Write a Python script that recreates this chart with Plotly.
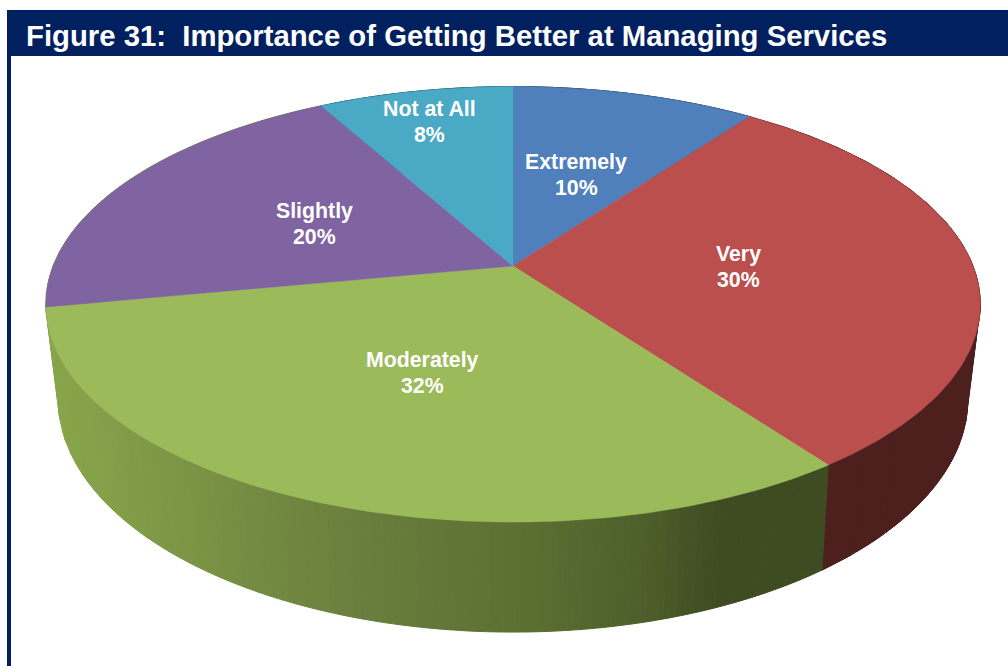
import numpy as np
import plotly.graph_objects as go

# ---- data ----
TITLE = "Figure 31:\u00a0 Importance of Getting Better at Managing Services"
categories = ["Extremely", "Very", "Moderately", "Slightly", "Not at All"]
values = [10, 30, 32, 20, 8]

# ---- styles ----
top_colors = ["#4f80bc", "#bb4f4d", "#9bba59", "#8063a1", "#4aa9c4"]
wall_colors = ["#2f4d70", "#4d1f1d", None, None, "#2c6475"]
green_x = [45, 100, 250, 400, 520, 640, 720, 830]
green_rgb = [(136, 166, 76), (132, 160, 73), (116, 140, 66), (102, 122, 58),
             (92, 112, 51), (78, 96, 43), (63, 75, 33), (62, 76, 34)]
NAVY = "#002060"
label_xy = [(576, 174.5), (738, 266.5), (422, 372.5), (314, 223.5), (429, 121.5)]
BAND_PX = 6

# ---- perspective model of the disc (pixel space axes) ----
CX = 513
TOP = dict(a=460.0, b=211.0, k=0.176, y0=266)
BOT = dict(a=447.0, b=225.0, k=0.185, y0=356)


def project(theta_deg, p):
    t = np.radians(theta_deg)
    d = 1 + p["k"] * np.cos(t)
    return CX + p["a"] * np.sin(t) / d, p["y0"] - p["b"] * np.cos(t) / d


def shade(x):
    r, g, b = (np.interp(x, green_x, [c[j] for c in green_rgb]) for j in range(3))
    return f"rgb({r:.0f},{g:.0f},{b:.0f})"


edges = np.cumsum([0] + values) / sum(values) * 360
fig = go.Figure()
common = dict(mode="lines", fill="toself", hoverinfo="skip", showlegend=False)


def add_band(th, col, width):
    x1, y1 = project(th, TOP)
    x2, y2 = project(th[::-1], BOT)
    fig.add_trace(go.Scatter(x=[*x1, *x2, x1[0]], y=[*y1, *y2, y1[0]],
                             line=dict(color=col, width=width), fillcolor=col, **common))


# side wall: flat slices in short overlapping arcs, shaded slices as bands of equal screen width
for i in [4, 0, 3, 1, 2]:
    th = np.linspace(edges[i], edges[i + 1], 400)
    if wall_colors[i] is not None:
        for s in range(0, len(th) - 1, 20):
            add_band(th[s:s + 40], wall_colors[i], 1)
        continue
    xm = (project(th, TOP)[0] + project(th, BOT)[0]) / 2
    bins = np.floor(xm / BAND_PX)
    start = 0
    for j in range(1, len(th) + 1):
        if j == len(th) or bins[j] != bins[start]:
            seg = th[start:min(j + 1, len(th))]
            add_band(seg, shade(xm[start:j].mean()), 1)
            start = j

# top surface
for i, name in enumerate(categories):
    th = np.linspace(edges[i], edges[i + 1], 160)
    x, y = project(th, TOP)
    fig.add_trace(go.Scatter(x=[CX, *x, CX], y=[TOP["y0"], *y, TOP["y0"]], name=name,
                             line=dict(color=top_colors[i], width=0.5),
                             fillcolor=top_colors[i], **common))

annotations = [dict(x=23.5, y=35.5, xanchor="left", yanchor="middle", text=f"<b>{TITLE}</b>",
                    showarrow=False, font=dict(family="Liberation Sans", size=29.3, color="white"))]
for name, v, (lx, ly) in zip(categories, values, label_xy):
    for text, dy in ((name, -13), (f"{v}%", 13)):
        annotations.append(dict(x=lx, y=ly + dy, xanchor="center", yanchor="middle",
                                text=f"<b>{text}</b>", showarrow=False,
                                font=dict(family="Liberation Sans", size=21.3, color="white")))

fig.update_layout(
    width=1008, height=666, margin=dict(l=0, r=0, t=0, b=0),
    paper_bgcolor="white", plot_bgcolor="white",
    xaxis=dict(range=[0, 1008], visible=False, fixedrange=True),
    yaxis=dict(range=[666, 0], visible=False, fixedrange=True),
    annotations=annotations,
    shapes=[
        dict(type="rect", x0=7, x1=1008, y0=10, y1=56, fillcolor=NAVY, line_width=0, layer="below"),
        dict(type="rect", x0=7, x1=11, y0=10, y1=666, fillcolor=NAVY, line_width=0, layer="below"),
    ],
)
fig.write_html("out.html", post_script="document.body.style.margin='0';",
               config=dict(displayModeBar=False))
